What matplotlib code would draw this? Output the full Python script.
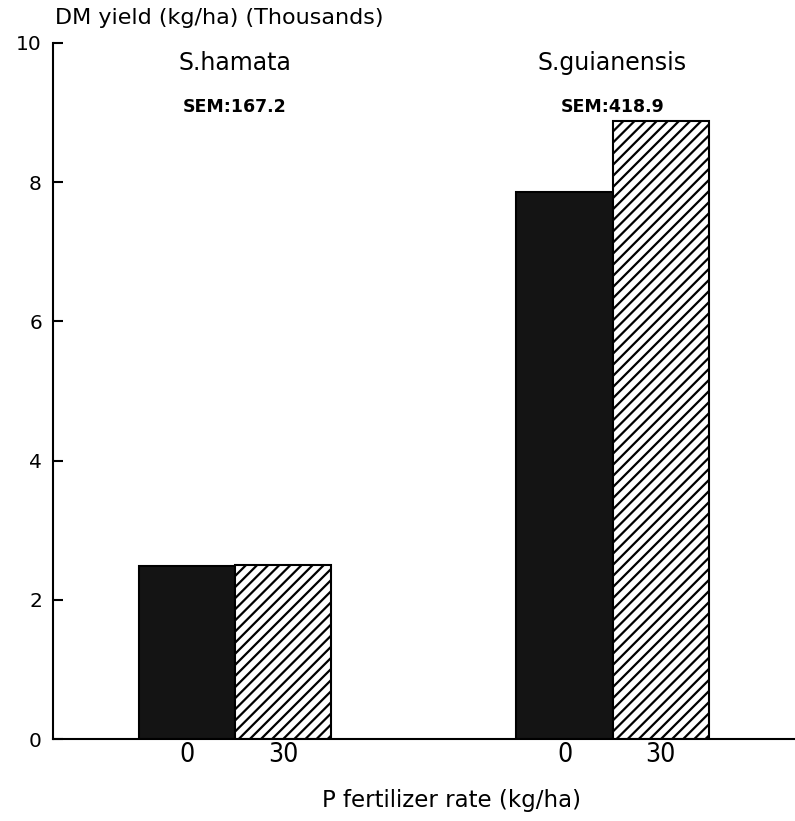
import matplotlib
matplotlib.use("Agg")
import matplotlib.pyplot as plt
import numpy as np

species = ["S.hamata", "S.guianensis"]
sem_labels = ["SEM:167.2", "SEM:418.9"]
rates = ["0", "30"]
yield_p0 = [2.49, 7.86]
yield_p30 = [2.50, 8.88]
yticks = [0, 2, 4, 6, 8, 10]

plt.rcParams['font.family'] = ['DejaVu Sans']
plt.rcParams['hatch.linewidth'] = 1.6

fig = plt.figure(figsize=(7.95, 8.21), dpi=100)
ax = fig.add_axes([53/795, 1-739/821, 1-53/795, (739-43)/821])

centers = np.array([0.0, 3.93])
w = 1.0
ax.bar(centers - w/2, yield_p0, width=w, color='#141414', edgecolor='black', linewidth=1.5)
ax.bar(centers + w/2, yield_p30, width=w, color='white', edgecolor='black', linewidth=1.5, hatch='///')

ax.set_xlim(-1.896, 5.83)
ax.set_ylim(0, 10)
ax.set_yticks(yticks)
ax.set_yticklabels([str(t) for t in yticks], fontsize=14.5)
ax.tick_params(axis='y', direction='in', length=7, width=1.5, pad=8)

xt = np.concatenate([centers - w/2, centers + w/2])
xl = [rates[0]] * len(centers) + [rates[1]] * len(centers)
ax.set_xticks(xt)
ax.set_xticklabels(xl, fontsize=19, fontstretch='condensed')
ax.tick_params(axis='x', length=0, pad=2)

for s in ['top', 'right']:
    ax.spines[s].set_visible(False)
for s in ['left', 'bottom']:
    ax.spines[s].set_linewidth(1.5)

for c, name, sem in zip(centers, species, sem_labels):
    ax.text(c, 0.971, name, transform=ax.get_xaxis_transform(), ha='center', va='center', fontsize=17)
    ax.text(c, 0.908, sem, transform=ax.get_xaxis_transform(), ha='center', va='center', fontsize=12.5, fontweight='bold')

fig.text(55/795, 1-18/821, "DM yield (kg/ha) (Thousands)", ha='left', va='center', fontsize=16)
fig.text(452/795, 1-800/821, "P fertilizer rate (kg/ha)", ha='center', va='center', fontsize=16.5)

fig.savefig("out.png", dpi=100)
